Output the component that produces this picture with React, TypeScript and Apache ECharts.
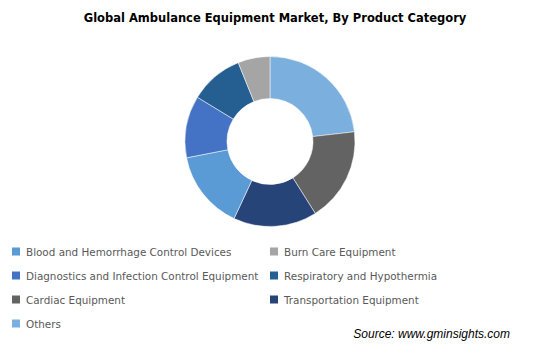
import React, { useEffect, useRef } from "react";
import * as echarts from "echarts";

const categories = [
  "Others",
  "Cardiac Equipment",
  "Transportation Equipment",
  "Blood and Hemorrhage Control Devices",
  "Diagnostics and Infection Control Equipment",
  "Respiratory and Hypothermia",
  "Burn Care Equipment",
];
const shares = [23.2, 17.9, 15.9, 15.0, 11.8, 10.2, 6.1];
const colors = ["#7BAFDE", "#636363", "#264478", "#5B9BD5", "#4472C4", "#255E91", "#A5A5A5"];

const legendLeft = [
  "Blood and Hemorrhage Control Devices",
  "Diagnostics and Infection Control Equipment",
  "Cardiac Equipment",
  "Others",
];
const legendRight = [
  "Burn Care Equipment",
  "Respiratory and Hypothermia",
  "Transportation Equipment",
];

const FONT = "DejaVu Sans";

export default function App() {
  const ref = useRef<HTMLDivElement>(null);
  useEffect(() => {
    if (!ref.current) return;
    const chart = echarts.init(ref.current, null, { renderer: "svg" });
    const legendCommon = {
      orient: "vertical" as const,
      top: 240.5,
      itemWidth: 10,
      itemHeight: 10,
      itemGap: 12,
      icon: "rect",
      textStyle: { fontFamily: FONT, fontSize: 10.4, color: "#595959" },
    };
    chart.setOption({
      animation: false,
      backgroundColor: "#ffffff",
      title: {
        text: "Global Ambulance Equipment Market, By Product Category",
        left: 270,
        textAlign: "center",
        top: 7,
        textStyle: { fontFamily: FONT, fontSize: 11.5, fontWeight: "bold", color: "#000000" },
      },
      legend: [
        { ...legendCommon, left: 5, data: legendLeft },
        { ...legendCommon, left: 263, data: legendRight },
      ],
      graphic: [
        {
          type: "text",
          right: 27,
          top: 328,
          style: {
            text: "Source: www.gminsights.com",
            font: "italic 12px 'Liberation Sans'",
            fill: "#000000",
          },
        },
      ],
      series: [
        {
          type: "pie",
          center: [270, 141.5],
          radius: [43, 85],
          startAngle: 90,
          clockwise: true,
          label: { show: false },
          labelLine: { show: false },
          emphasis: { disabled: true },
          itemStyle: { borderColor: "#ffffff", borderWidth: 0.5 },
          data: categories.map((name, i) => ({
            name,
            value: shares[i],
            itemStyle: { color: colors[i] },
          })),
        },
      ],
    });
    return () => chart.dispose();
  }, []);
  return (
    <div
      ref={ref}
      style={{ position: "fixed", left: 0, top: 0, width: 537, height: 351 }}
    />
  );
}
